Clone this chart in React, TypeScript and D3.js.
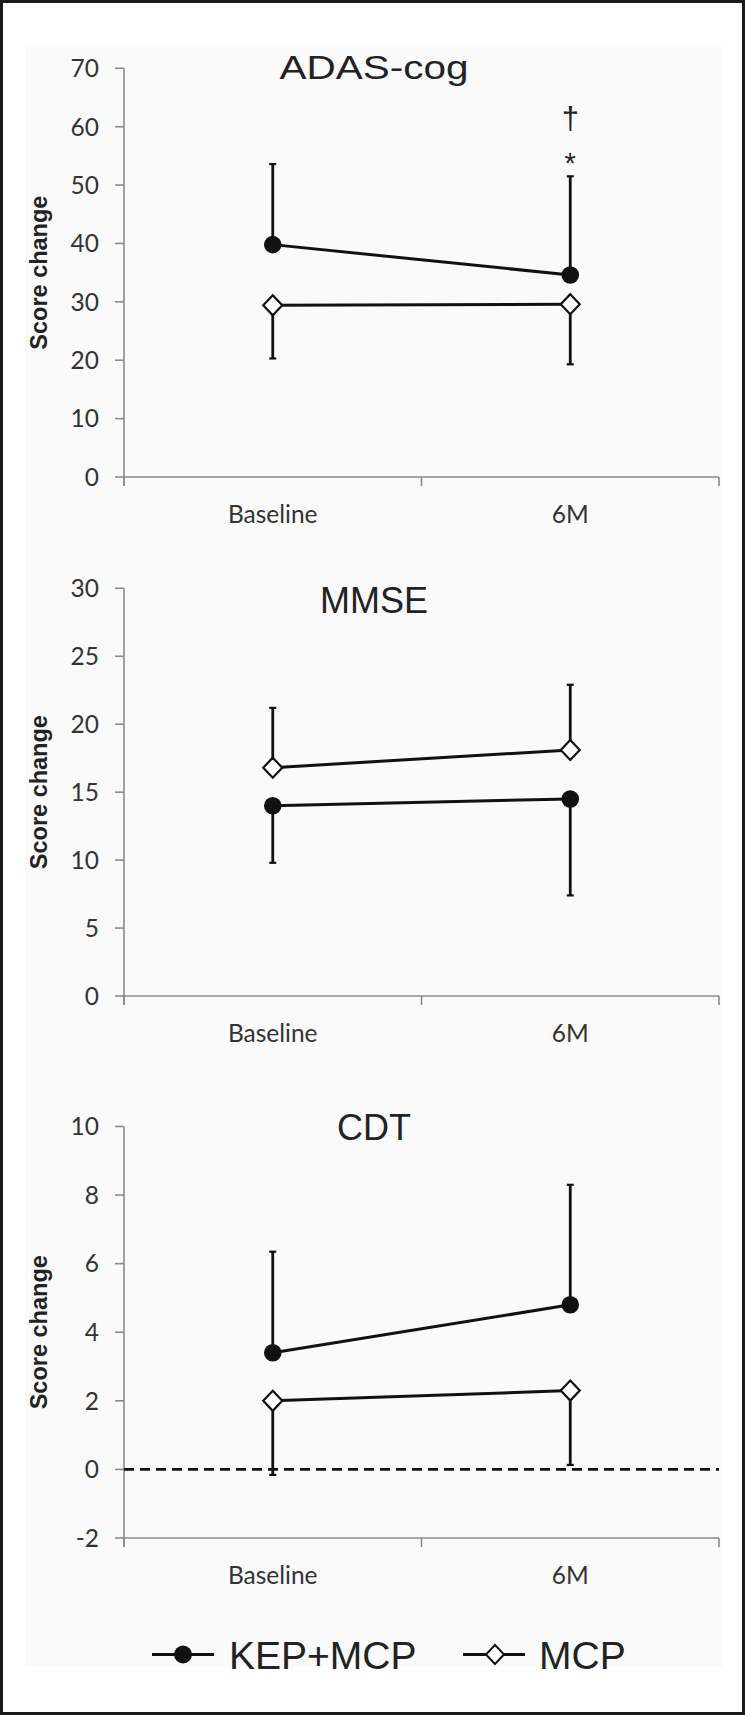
import React from "react";
import * as d3 from "d3";

// ---- data ----
const categories = ["Baseline", "6M"];
const seriesNames = ["KEP+MCP", "MCP"];

const adasKep = [39.8, 34.6];
const adasKepSd = [13.8, 16.9];
const adasMcp = [29.4, 29.6];
const adasMcpSd = [9.1, 10.3];
const adasTicks = [0, 10, 20, 30, 40, 50, 60, 70];

const mmseKep = [14.0, 14.5];
const mmseKepSd = [4.2, 7.1];
const mmseMcp = [16.8, 18.1];
const mmseMcpSd = [4.4, 4.8];
const mmseTicks = [0, 5, 10, 15, 20, 25, 30];

const cdtKep = [3.4, 4.8];
const cdtKepSd = [2.95, 3.5];
const cdtMcp = [2.0, 2.3];
const cdtMcpSd = [2.16, 2.17];
const cdtTicks = [-2, 0, 2, 4, 6, 8, 10];

const yLabel = "Score change";

type Panel = {
  title: string;
  ticks: number[];
  kep: number[];
  kepSd: number[];
  kepDir: number; // +1 up, -1 down
  mcp: number[];
  mcpSd: number[];
  mcpDir: number;
  top: number;
  bottom: number;
  titleY: number;
  titleSize: number;
  titleLen?: number;
  zeroLine?: boolean;
  marks?: string[];
};

const panels: Panel[] = [
  {
    title: "ADAS-cog", ticks: adasTicks,
    kep: adasKep, kepSd: adasKepSd, kepDir: 1,
    mcp: adasMcp, mcpSd: adasMcpSd, mcpDir: -1,
    top: 68.3, bottom: 477, titleY: 79, titleSize: 33, titleLen: 189,
    marks: ["†", "*"],
  },
  {
    title: "MMSE", ticks: mmseTicks,
    kep: mmseKep, kepSd: mmseKepSd, kepDir: -1,
    mcp: mmseMcp, mcpSd: mmseMcpSd, mcpDir: 1,
    top: 588.3, bottom: 996, titleY: 612.7, titleSize: 36,
  },
  {
    title: "CDT", ticks: cdtTicks,
    kep: cdtKep, kepSd: cdtKepSd, kepDir: 1,
    mcp: cdtMcp, mcpSd: cdtMcpSd, mcpDir: -1,
    top: 1126.5, bottom: 1538, titleY: 1139.5, titleSize: 36, zeroLine: true,
  },
];

const W = 745;
const H = 1715;
const AX_L = 124;
const AX_R = 719;
const TICK_FONT = "Lato, 'Open Sans', sans-serif";
const SANS = "'Liberation Sans', Arial, sans-serif";
const AXIS_COLOR = "#8a8a8a";
const TEXT_COLOR = "#333";

const x = d3.scaleBand<string>().domain(categories).range([AX_L, AX_R]);
const cx = (c: string) => (x(c) as number) + x.bandwidth() / 2;

function diamondPath(px: number, py: number, r: number) {
  return `M${px},${py - r}L${px + r * 0.95},${py}L${px},${py + r}L${px - r * 0.95},${py}Z`;
}

function ChartPanel({ p }: { p: Panel }) {
  const ext = d3.extent(p.ticks) as [number, number];
  const y = d3.scaleLinear().domain(ext).range([p.bottom, p.top]);
  const line = d3
    .line<number>()
    .x((_, i) => cx(categories[i]))
    .y((v) => y(v));
  const boundaries = [AX_L, ...categories.map((c) => (x(c) as number) + x.bandwidth())];
  const midY = (p.top + p.bottom) / 2;
  const lastX = cx(categories[categories.length - 1]);
  const kepLastTop = y(p.kep[p.kep.length - 1] + p.kepSd[p.kepSd.length - 1]);

  return (
    <g>
      {/* y axis */}
      <line x1={AX_L} x2={AX_L} y1={p.top} y2={p.bottom + 9} stroke={AXIS_COLOR} strokeWidth={1.6} />
      {p.ticks.map((t) => (
        <g key={t}>
          <line x1={AX_L - 9} x2={AX_L} y1={y(t)} y2={y(t)} stroke={AXIS_COLOR} strokeWidth={1.6} />
          <text x={99} y={y(t)} dy="0.36em" textAnchor="end" fontFamily={TICK_FONT} fontSize={24.5} fill={TEXT_COLOR}>
            {t}
          </text>
        </g>
      ))}
      {/* x axis */}
      <line x1={AX_L} x2={AX_R} y1={p.bottom} y2={p.bottom} stroke={AXIS_COLOR} strokeWidth={1.6} />
      {boundaries.map((bx, i) => (
        <line key={i} x1={bx} x2={bx} y1={p.bottom} y2={p.bottom + 9} stroke={AXIS_COLOR} strokeWidth={1.6} />
      ))}
      {categories.map((c) => (
        <text key={c} x={cx(c)} y={p.bottom + 46} textAnchor="middle" fontFamily={TICK_FONT} fontSize={24.5} fill={TEXT_COLOR}>
          {c}
        </text>
      ))}
      {p.zeroLine && (
        <line x1={AX_L} x2={AX_R} y1={y(0)} y2={y(0)} stroke="#111" strokeWidth={2.6} strokeDasharray="10,6" />
      )}
      {/* y label */}
      <text
        transform={`translate(47,${midY}) rotate(-90)`}
        textAnchor="middle"
        fontFamily={SANS}
        fontWeight="bold"
        fontSize={23.5}
        fill="#222"
      >
        {yLabel}
      </text>
      {/* title */}
      <text
        x={374}
        y={p.titleY}
        textAnchor="middle"
        fontFamily={SANS}
        fontSize={p.titleSize}
        fill="#222"
        {...(p.titleLen ? { textLength: p.titleLen, lengthAdjust: "spacingAndGlyphs" } : {})}
      >
        {p.title}
      </text>
      {/* error bars */}
      {[
        { v: p.mcp, sd: p.mcpSd, dir: p.mcpDir },
        { v: p.kep, sd: p.kepSd, dir: p.kepDir },
      ].map((s, si) =>
        s.v.map((v, i) => {
          const px = cx(categories[i]);
          const end = y(v + s.dir * s.sd[i]);
          return (
            <g key={`${si}-${i}`}>
              <line x1={px} x2={px} y1={y(v)} y2={end} stroke="#111" strokeWidth={2.8} />
              <line x1={px - 3.5} x2={px + 3.5} y1={end} y2={end} stroke="#111" strokeWidth={2.2} />
            </g>
          );
        })
      )}
      {/* lines */}
      <path d={line(p.kep) || ""} fill="none" stroke="#111" strokeWidth={3} />
      <path d={line(p.mcp) || ""} fill="none" stroke="#111" strokeWidth={3} />
      {/* markers */}
      {p.kep.map((v, i) => (
        <circle key={`k${i}`} cx={cx(categories[i])} cy={y(v)} r={8.8} fill="#111" />
      ))}
      {p.mcp.map((v, i) => (
        <path key={`m${i}`} d={diamondPath(cx(categories[i]), y(v), 10)} fill="#fff" stroke="#111" strokeWidth={2.2} />
      ))}
      {p.marks && (
        <g fontFamily={SANS} fill="#222" textAnchor="middle">
          <text x={lastX} y={kepLastTop - 47} fontSize={31}>{p.marks[0]}</text>
          <text x={lastX} y={kepLastTop - 3} fontSize={29}>{p.marks[1]}</text>
        </g>
      )}
    </g>
  );
}

export default function App() {
  const legendY = 1654.5;
  return (
    <svg width={W} height={H} style={{ position: "absolute", left: 0, top: 0 }} xmlns="http://www.w3.org/2000/svg">
      <rect x={1.5} y={1.5} width={W - 3} height={H - 3} fill="#fff" stroke="#1a1a1a" strokeWidth={3} />
      <rect x={25} y={47} width={697} height={1620} fill="#fafafa" />
      {panels.map((p) => (
        <ChartPanel key={p.title} p={p} />
      ))}
      {/* legend */}
      <g>
        <line x1={152} x2={214} y1={legendY} y2={legendY} stroke="#111" strokeWidth={3} />
        <circle cx={183} cy={legendY} r={9} fill="#111" />
        <text x={229} y={legendY + 14} fontFamily={SANS} fontSize={39} fill="#222">{seriesNames[0]}</text>
        <line x1={463} x2={525} y1={legendY} y2={legendY} stroke="#111" strokeWidth={3} />
        <path d={diamondPath(495, legendY, 9.5)} fill="#fff" stroke="#111" strokeWidth={2} />
        <text x={539} y={legendY + 14} fontFamily={SANS} fontSize={39} fill="#222">{seriesNames[1]}</text>
      </g>
    </svg>
  );
}
